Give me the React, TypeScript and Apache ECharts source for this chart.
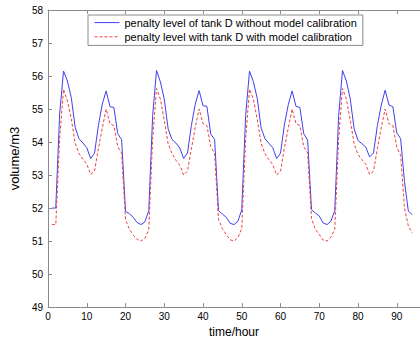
import React, { useEffect, useRef } from "react";
import * as echarts from "echarts";

const HOURS = [
  1, 2, 3, 4, 5, 6, 7, 8, 9, 10, 11, 12, 13, 14, 15, 16, 17, 18, 19, 20, 21, 22, 23, 24,
  25, 26, 27, 28, 29, 30, 31, 32, 33, 34, 35, 36, 37, 38, 39, 40, 41, 42, 43, 44, 45, 46, 47, 48,
  49, 50, 51, 52, 53, 54, 55, 56, 57, 58, 59, 60, 61, 62, 63, 64, 65, 66, 67, 68, 69, 70, 71, 72,
  73, 74, 75, 76, 77, 78, 79, 80, 81, 82, 83, 84, 85, 86, 87, 88, 89, 90, 91, 92, 93, 94,
];

const WITHOUT_CAL = [
  52.0, 52.0, 54.85, 56.15, 55.85, 55.35, 54.45, 54.1, 53.97, 53.83, 53.5, 53.66, 54.5, 55.15, 55.55, 55.07, 55.05, 54.25, 54.07, 51.9, 51.83, 51.72, 51.56, 51.5,
  51.58, 51.92, 54.8, 56.17, 55.82, 55.3, 54.4, 54.08, 53.97, 53.82, 53.5, 53.67, 54.5, 55.15, 55.56, 55.1, 55.08, 54.24, 54.08, 51.92, 51.82, 51.72, 51.54, 51.5,
  51.6, 51.95, 54.8, 56.15, 55.83, 55.32, 54.42, 54.1, 53.96, 53.83, 53.5, 53.66, 54.52, 55.13, 55.55, 55.08, 55.05, 54.25, 54.06, 51.95, 51.85, 51.76, 51.55, 51.5,
  51.6, 51.92, 54.8, 56.17, 55.85, 55.3, 54.4, 54.05, 53.95, 53.85, 53.55, 53.67, 54.5, 55.12, 55.57, 55.12, 55.07, 54.28, 54.1, 52.8, 51.9, 51.8,
];

const WITH_CAL = [
  51.5, 51.5, 54.1, 55.6, 55.25, 54.7, 53.97, 53.65, 53.48, 53.33, 53.02, 53.12, 53.8, 54.42, 55.0, 54.55, 54.5, 53.87, 53.66, 51.65, 51.36, 51.18, 51.05, 51.0,
  51.08, 51.35, 54.1, 55.62, 55.3, 54.66, 53.95, 53.65, 53.45, 53.3, 53.0, 53.12, 53.8, 54.45, 55.0, 54.56, 54.5, 53.86, 53.66, 51.65, 51.38, 51.2, 51.04, 51.0,
  51.1, 51.38, 54.1, 55.6, 55.3, 54.68, 53.96, 53.64, 53.47, 53.32, 53.0, 53.12, 53.82, 54.42, 55.0, 54.56, 54.5, 53.86, 53.67, 51.68, 51.35, 51.2, 51.03, 51.0,
  51.12, 51.36, 54.1, 55.62, 55.3, 54.66, 53.95, 53.62, 53.47, 53.33, 53.02, 53.12, 53.8, 54.43, 55.0, 54.55, 54.5, 53.85, 53.6, 52.0, 51.45, 51.25,
];

const SERIES_NAMES = [
  "penalty level of tank D without model calibration",
  "penalty level with tank D with model calibration",
];

const X_LABEL = "time/hour";
const Y_LABEL = "volume/m3";

const FONT = "'Liberation Sans', Arial, Helvetica, sans-serif";
const AXIS_COLOR = "#8a8a8a";
const BLUE = "#4040f0";
const RED = "#f04040";

export default function App() {
  const ref = useRef<HTMLDivElement>(null);

  useEffect(() => {
    if (!ref.current) return;
    const chart = echarts.init(ref.current, undefined, { renderer: "svg" });
    const toPairs = (vals: number[]) => vals.map((v, i) => [HOURS[i], v]);
    const axisCommon = {
      axisLine: { show: true, lineStyle: { color: AXIS_COLOR, width: 1 } },
      axisTick: { show: true, inside: true, length: 4, lineStyle: { color: AXIS_COLOR } },
      splitLine: { show: false },
    };
    chart.setOption({
      animation: false,
      backgroundColor: "#ffffff",
      textStyle: { fontFamily: FONT },
      grid: { left: 42, top: 10, width: 96 * 4.04, height: 305, containLabel: false },
      legend: {
        show: true,
        orient: "vertical",
        left: 88,
        top: 15,
        itemWidth: 25,
        itemHeight: 14,
        itemGap: 3,
        padding: [2, 6, 3, 6],
        borderColor: "#8a8a8a",
        borderWidth: 1,
        backgroundColor: "#ffffff",
        itemStyle: { opacity: 0 },
        lineStyle: { width: 1 },
        textStyle: { fontSize: 11, color: "#000", fontFamily: FONT },
        data: SERIES_NAMES,
      },
      xAxis: [
        {
          type: "value",
          min: 0,
          max: 96,
          interval: 10,
          name: X_LABEL,
          nameLocation: "middle",
          nameGap: 13,
          nameTextStyle: { fontSize: 12, color: "#000", fontFamily: FONT },
          axisLabel: { fontSize: 10, color: "#000", margin: 4, showMaxLabel: false, fontFamily: FONT },
          ...axisCommon,
        },
        {
          type: "value",
          position: "top",
          min: 0,
          max: 96,
          interval: 10,
          axisLabel: { show: false },
          ...axisCommon,
        },
      ],
      yAxis: {
        type: "value",
        min: 49,
        max: 58,
        interval: 1,
        name: Y_LABEL,
        nameLocation: "middle",
        nameGap: 12,
        nameRotate: 90,
        nameTextStyle: { fontSize: 13, color: "#000", fontFamily: FONT },
        axisLabel: { fontSize: 10, color: "#000", margin: 5, fontFamily: FONT },
        ...axisCommon,
      },
      series: [
        {
          name: SERIES_NAMES[0],
          type: "line",
          data: toPairs(WITHOUT_CAL),
          symbol: "none",
          showSymbol: false,
          lineStyle: { color: BLUE, width: 1 },
          itemStyle: { color: BLUE },
        },
        {
          name: SERIES_NAMES[1],
          type: "line",
          data: toPairs(WITH_CAL),
          symbol: "none",
          showSymbol: false,
          lineStyle: { color: RED, width: 1, type: [3, 2] },
          itemStyle: { color: RED },
        },
      ],
    });
    return () => chart.dispose();
  }, []);

  return (
    <div
      ref={ref}
      style={{ width: 420, height: 343, position: "absolute", left: 0, top: 0, overflow: "hidden" }}
    />
  );
}
